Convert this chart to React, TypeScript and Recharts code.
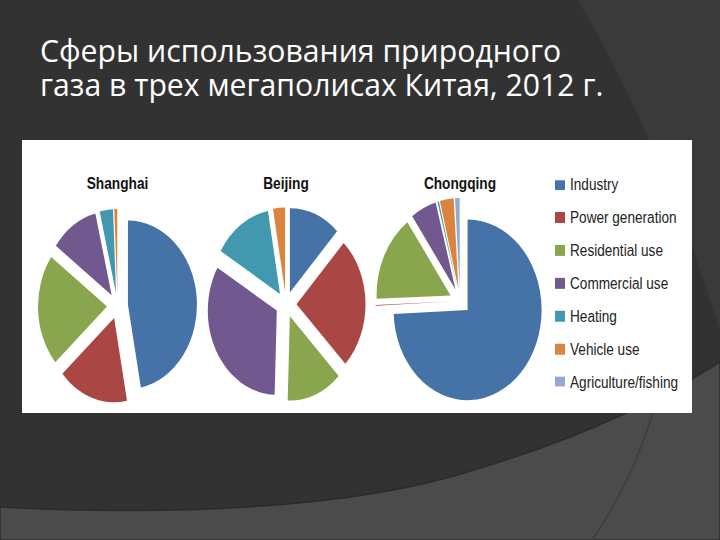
import { PieChart, Pie, Cell, Legend } from "recharts";

const categories = [
  "Industry",
  "Power generation",
  "Residential use",
  "Commercial use",
  "Heating",
  "Vehicle use",
  "Agriculture/fishing",
];
const colors = ["#4572A7", "#AA4643", "#89A54E", "#71588F", "#4198AF", "#DB843D", "#93A9CF"];

const cities = ["Shanghai", "Beijing", "Chongqing"];
// shares, %
const shanghai = [47, 16.5, 21.5, 11.2, 3.1, 0.7, 0];
const beijing = [12, 25.5, 13, 33, 13.7, 2.8, 0];
const chongqing = [74, 0.15, 15.6, 5.6, 0.3, 3, 1];

const titleLines = ["Сферы использования природного", "газа в трех мегаполисах Китая, 2012 г."];

const PANEL_W = 670;
const PANEL_H = 273;
const STRETCH = 1.22; // the source picture is stretched vertically
const CHART_H = PANEL_H / STRETCH;
const EXPLODE = 10.5;

const pies = [
  { cx: 95.5, cy: 136, r: 69, values: shanghai },
  { cx: 264, cy: 134.8, r: 69, values: beijing },
  { cx: 438, cy: 132, r: 74, values: chongqing },
];

function toRows(values: number[]) {
  const total = values.reduce((a, b) => a + b, 0);
  let acc = 0;
  return values.map((v, i) => {
    const mid = (acc + v / 2) / total;
    acc += v;
    return { name: categories[i], value: v, mid };
  });
}

function LegendBox() {
  return (
    <div style={{ fontFamily: "Arial, 'Liberation Sans', sans-serif", fontSize: 13.6, color: "#222" }}>
      {categories.map((c, i) => (
        <div key={c} style={{ height: 26.9, display: "flex", alignItems: "center" }}>
          <span style={{ width: 10, height: 8.5, background: colors[i], marginRight: 5, display: "inline-block" }} />
          <span style={{ whiteSpace: "nowrap" }}>{c}</span>
        </div>
      ))}
    </div>
  );
}

export default function App() {
  return (
    <div
      style={{
        position: "absolute",
        left: 0,
        top: 0,
        width: 720,
        height: 540,
        overflow: "hidden",
        background: "#323232",
      }}
    >
      <svg width={720} height={540} style={{ position: "absolute", left: 0, top: 0 }}>
        <path d="M 578 0 Q 660 140 720 330 L 720 0 Z" fill="#3a3a3a" />
        <path
          d="M 0 507 C 150 515, 350 512, 480 468 C 580 438, 660 400, 720 362 L 720 540 L 0 540 Z"
          fill="#4b4b4b"
          stroke="#2c2c2c"
          strokeWidth={1.5}
        />
        <path d="M 592 540 Q 640 470 662 380" fill="none" stroke="#3d3d3d" strokeWidth={1.5} />
      </svg>

      {titleLines.map((line, i) => (
        <div
          key={line}
          style={{
            position: "absolute",
            left: 40,
            top: 34 + i * 34,
            height: 34,
            color: "#fff",
            fontFamily: "'Open Sans', sans-serif",
            fontSize: 30.2,
            lineHeight: "34px",
            whiteSpace: "nowrap",
          }}
        >
          {line}
        </div>
      ))}

      <div
        style={{
          position: "absolute",
          left: 22,
          top: 140,
          width: PANEL_W,
          height: PANEL_H,
          background: "#fff",
          overflow: "hidden",
        }}
      >
        <div style={{ transform: `scaleY(${STRETCH})`, transformOrigin: "0 0", width: PANEL_W, height: CHART_H }}>
          <PieChart width={PANEL_W} height={CHART_H} margin={{ top: 0, right: 0, bottom: 0, left: 0 }}>
            {pies.map((p, pi) => {
              const rows = toRows(p.values);
              return rows.map((row, k) =>
                row.value > 0 ? (
                  <Pie
                    key={`${pi}-${k}`}
                    data={rows}
                    dataKey="value"
                    nameKey="name"
                    cx={p.cx + EXPLODE * Math.sin(2 * Math.PI * row.mid)}
                    cy={p.cy - EXPLODE * Math.cos(2 * Math.PI * row.mid)}
                    outerRadius={p.r}
                    startAngle={90}
                    endAngle={-270}
                    stroke="none"
                    legendType="none"
                    isAnimationActive={false}
                  >
                    {rows.map((r, i) => (
                      <Cell key={r.name} fill={i === k ? colors[i] : "transparent"} stroke="none" />
                    ))}
                  </Pie>
                ) : null
              );
            })}
            {pies.map((p, pi) => (
              <text
                key={cities[pi]}
                x={p.cx}
                y={35}
                textAnchor="middle"
                dominantBaseline="central"
                fontFamily="Arial, 'Liberation Sans', sans-serif"
                fontWeight="bold"
                fontSize={13.7}
                fill="#111"
              >
                {cities[pi]}
              </text>
            ))}
            <Legend
              layout="vertical"
              align="right"
              verticalAlign="top"
              content={() => <LegendBox />}
              wrapperStyle={{ left: 533, top: 23.4, width: 137 }}
            />
          </PieChart>
        </div>
      </div>
    </div>
  );
}
